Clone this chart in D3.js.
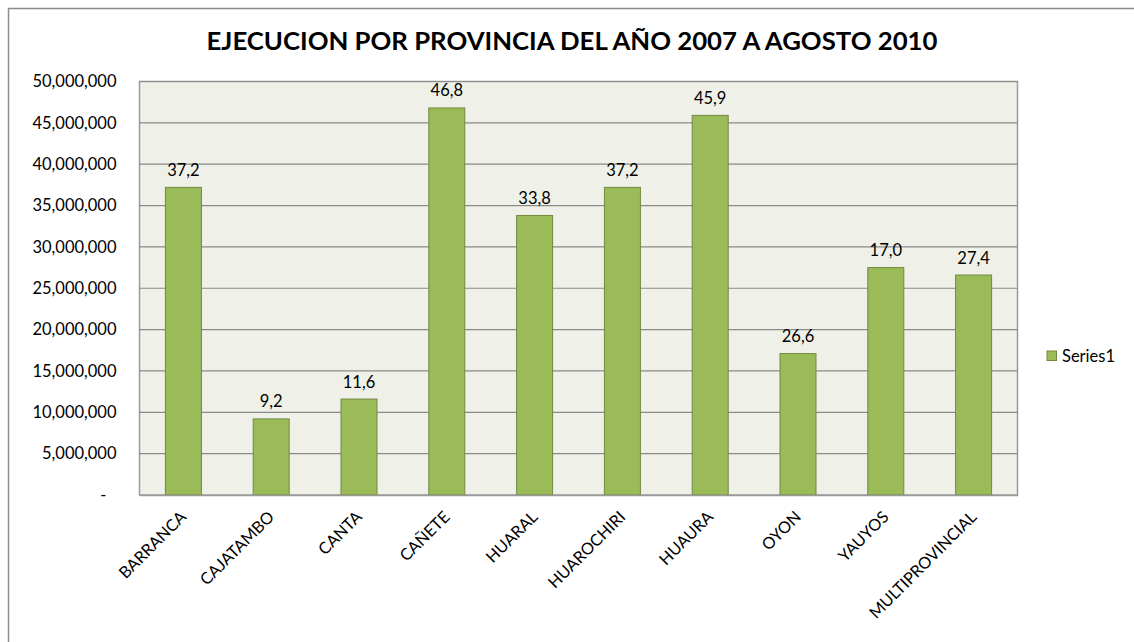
<!DOCTYPE html>
<html><head><meta charset="utf-8">
<script src="https://cdn.jsdelivr.net/npm/d3@7"></script>
<style>body{margin:0;background:#fff;}svg{display:block;}</style>
</head><body>
<svg id="c" width="1134" height="642"></svg>
<script>
const categories = ["BARRANCA","CAJATAMBO","CANTA","CAÑETE","HUARAL","HUAROCHIRI","HUAURA","OYON","YAUYOS","MULTIPROVINCIAL"];
const values = [37200000, 9200000, 11600000, 46800000, 33800000, 37200000, 45900000, 17100000, 27500000, 26600000];
const dataLabels = ["37,2","9,2","11,6","46,8","33,8","37,2","45,9","26,6","17,0","27,4"];
const yTicks = [0,5000000,10000000,15000000,20000000,25000000,30000000,35000000,40000000,45000000,50000000];
const seriesName = "Series1";
const title = "EJECUCION POR PROVINCIA DEL AÑO 2007 A AGOSTO 2010";

const svg = d3.select("#c");
const font = "Lato, 'Open Sans', sans-serif";
const L = 139.5, T = 81.5, R = 1017.5, B = 495;

svg.append("rect").attr("x",8.5).attr("y",8.5).attr("width",1140).attr("height",700)
  .attr("fill","#fff").attr("stroke","#8c8c8c").attr("stroke-width",1.5);

svg.append("text").attr("x",572).attr("y",50).attr("text-anchor","middle")
  .attr("font-family",font).attr("font-weight","bold").attr("font-size",24.5)
  .attr("textLength",731).attr("lengthAdjust","spacingAndGlyphs")
  .attr("fill","#000").text(title);

const x = d3.scaleBand().domain(categories).range([L,R]).paddingInner(0.59).paddingOuter(0.295);
const y = d3.scaleLinear().domain([0,50000000]).range([B,T]);

svg.append("rect").attr("x",L).attr("y",T).attr("width",R-L).attr("height",B-T)
  .attr("fill","#eff1e9").attr("stroke","#9a9a9a").attr("stroke-width",1.5);

svg.append("g").selectAll("line").data(yTicks.slice(1)).join("line")
  .attr("x1",L).attr("x2",R).attr("y1",d=>y(d)).attr("y2",d=>y(d))
  .attr("stroke","#8a8a8a").attr("stroke-width",1.2);

const yAxis = d3.axisLeft(y).tickValues(yTicks).tickSize(0).tickPadding(0)
  .tickFormat(d => d===0 ? "-" : d3.format(",")(d));
const gy = svg.append("g").attr("transform",`translate(${L-23},0)`).call(yAxis);
gy.select(".domain").remove();
gy.selectAll("text").attr("font-family",font).attr("font-size",16.5).attr("fill","#000")
  .attr("dx", d => d===0 ? -10 : 0);

svg.append("g").selectAll("rect").data(values).join("rect")
  .attr("x",(d,i)=>x(categories[i])).attr("y",d=>y(d))
  .attr("width",x.bandwidth()).attr("height",d=>B-y(d))
  .attr("fill","#9bbb59").attr("stroke","#71893f").attr("stroke-width",1);

svg.append("g").selectAll("text").data(values).join("text")
  .attr("x",(d,i)=>x(categories[i])+x.bandwidth()/2).attr("y",d=>y(d)-11.5)
  .attr("text-anchor","middle").attr("font-family",font).attr("font-size",16.5).attr("fill","#000")
  .text((d,i)=>dataLabels[i]);

const xAxis = d3.axisBottom(x).tickSize(0).tickPadding(0);
const gx = svg.append("g").attr("transform",`translate(0,${B})`).call(xAxis);
gx.select(".domain").attr("stroke","#9a9a9a").attr("stroke-width",1.5);
gx.selectAll("text").attr("font-family",font).attr("font-size",16.3).attr("fill","#000")
  .attr("text-anchor","end").attr("dy",0).attr("y",0)
  .attr("transform","translate(4,23) rotate(-45)");

const lg = svg.append("g").attr("transform","translate(1047,351)");
lg.append("rect").attr("width",9.5).attr("height",9.5).attr("fill","#9bbb59").attr("stroke","#71893f");
lg.append("text").attr("x",15).attr("y",10.5).attr("font-family",font).attr("font-size",16.5).text(seriesName);
</script>
</body></html>
